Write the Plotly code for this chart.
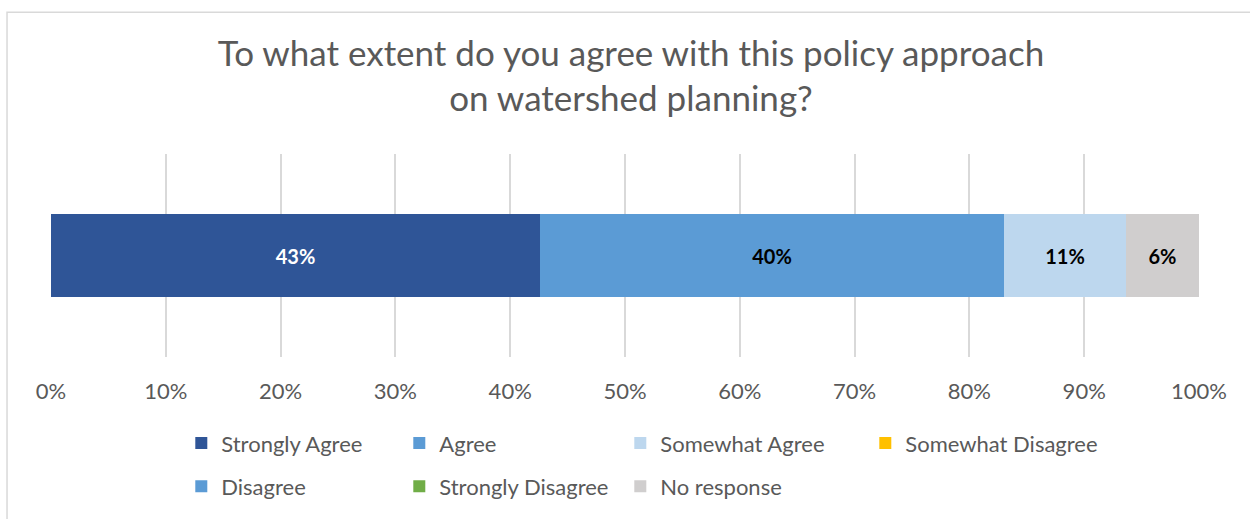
import plotly.graph_objects as go

# Survey responses (share of respondents)
categories = ["Strongly Agree", "Agree", "Somewhat Agree", "Somewhat Disagree",
              "Disagree", "Strongly Disagree", "No response"]
shares = [0.426, 0.404, 0.106, 0.0, 0.0, 0.0, 0.064]
colors = ["#2F5597", "#5B9BD5", "#BDD7EE", "#FFC000", "#5B9BD5", "#70AD47", "#D0CECE"]
label_colors = ["#FFFFFF", "#000000", "#000000", "#000000", "#000000", "#000000", "#000000"]
legend_rows = ["legend", "legend", "legend", "legend", "legend2", "legend2", "legend2"]
entry_widths = [173, 176, 200, 200, 173, 176, 160]

question = "To what extent do you agree with this policy approach<br>on watershed planning?"
tick_vals = [i / 10 for i in range(11)]

FONT = "Lato, 'Open Sans', sans-serif"
GREY = "#595959"

fig = go.Figure()
for name, val, col, tcol, lg, lw in zip(categories, shares, colors, label_colors,
                                        legend_rows, entry_widths):
    fig.add_trace(go.Bar(
        y=[0], x=[val], orientation="h", name=name,
        marker=dict(color=col, line=dict(width=0)),
        width=0.406,
        text=[f"{val:.0%}" if val > 0 else ""],
        textposition="inside", insidetextanchor="middle", textangle=0,
        constraintext="none",
        textfont=dict(family=FONT, size=20, color=tcol, weight="bold"),
        legend=lg, legendwidth=lw,
    ))

legend_common = dict(
    orientation="h", xanchor="left", yanchor="middle",
    font=dict(family=FONT, size=22, color=GREY),
    bgcolor="rgba(0,0,0,0)", traceorder="normal",
    itemclick=False, itemdoubleclick=False,
)

fig.update_layout(
    width=1250, height=519,
    margin=dict(l=51, r=51, t=154, b=158),
    paper_bgcolor="white", plot_bgcolor="white",
    barmode="stack", bargap=0,
    title=dict(text=question, x=0.5048, xanchor="center", xref="container",
               y=0.873, yanchor="middle",
               font=dict(family=FONT, size=35, color=GREY)),
    xaxis=dict(range=[0, 1], tickvals=tick_vals, tickformat=".0%",
               showgrid=True, gridcolor="#D9D9D9", gridwidth=1.5,
               zeroline=False, showline=False, ticks="",
               ticklabelstandoff=19,
               tickfont=dict(family=FONT, size=22, color=GREY)),
    yaxis=dict(range=[-0.5, 0.5], showticklabels=False, showgrid=False,
               zeroline=False, showline=False),
    legend=dict(x=0.1135, y=-0.425, **legend_common),
    legend2=dict(x=0.1135, y=-0.638, **legend_common),
    showlegend=True,
    shapes=[dict(type="rect", xref="paper", yref="paper",
                 x0=-0.0383, x1=1.07, y0=-1.2, y1=1.698,
                 line=dict(color="#D9D9D9", width=1.5), layer="below")],
)

fig.write_html("out.html")
